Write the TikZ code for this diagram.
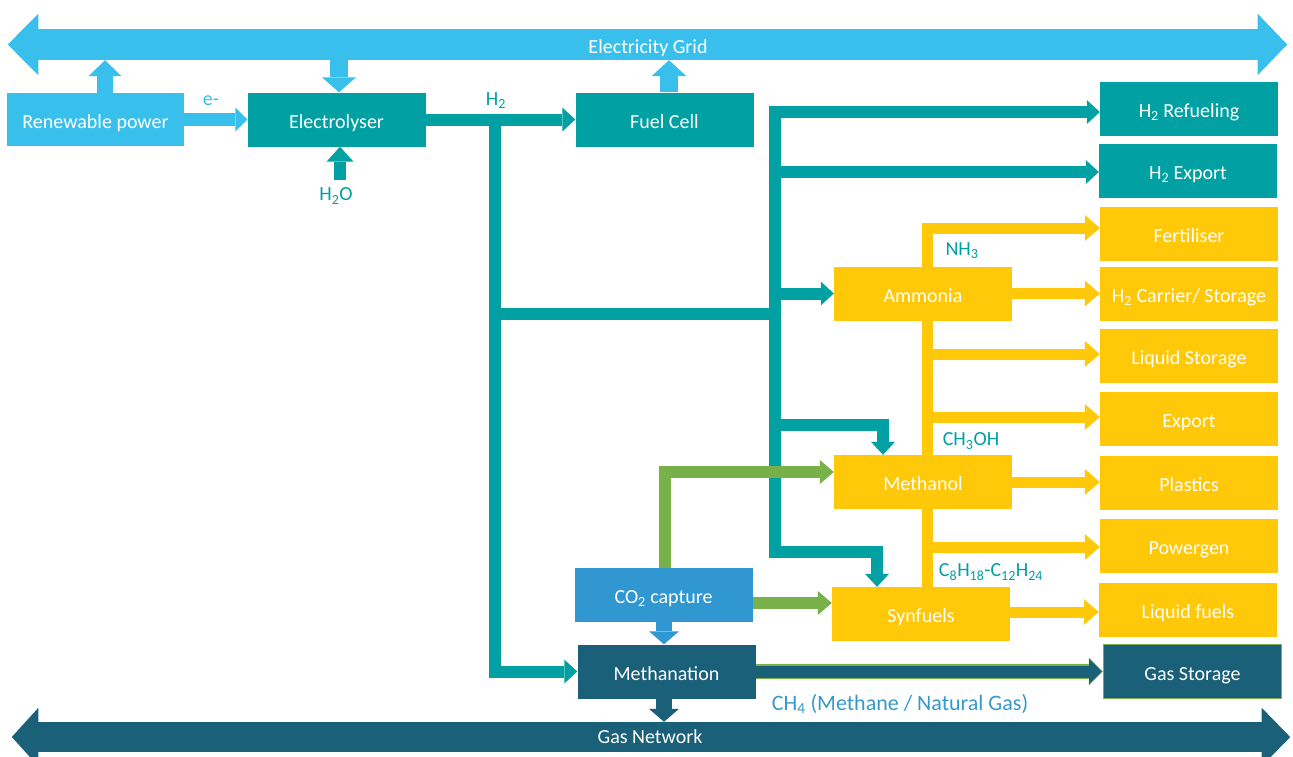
\documentclass[tikz,border=0pt]{standalone}
\usepackage{fontspec}
\setmainfont{Carlito}
\usetikzlibrary{arrows.meta,calc,backgrounds}
\definecolor{lblue}{HTML}{38BFEB}
\definecolor{tealc}{HTML}{00A0A3}
\definecolor{yel}{HTML}{FFC90A}
\definecolor{grn}{HTML}{78B14A}
\definecolor{cob}{HTML}{3097D1}
\definecolor{dteal}{HTML}{1A6079}
\definecolor{chlbl}{HTML}{3399CC}
\newcommand{\sbs}[1]{\textsubscript{#1}}
\begin{document}
\begin{tikzpicture}[x=1pt,y=-1pt,font=\fontsize{20}{24}\selectfont,
  box/.style={rectangle,inner sep=0pt,minimum width=178pt,minimum height=54pt,text=white,text height=17pt,text depth=0pt},
  lbbox/.style={box,fill=lblue}, tbox/.style={box,fill=tealc}, ybox/.style={box,fill=yel},
  cbox/.style={box,fill=cob}, dbox/.style={box,fill=dteal},
  tline/.style={draw=tealc,line width=12pt,line join=miter},
  tarr/.style={tline,-{Triangle[width=24pt,length=13pt,line width=0pt]}},
  tboth/.style={tline,{Triangle[width=24pt,length=13pt,line width=0pt]}-{Triangle[width=24pt,length=13pt,line width=0pt]}},
  yarr/.style={draw=yel,line width=11pt,line join=miter,-{Triangle[width=26pt,length=15pt,line width=0pt]}},
  garr/.style={draw=grn,line width=12pt,line join=miter,-{Triangle[width=24pt,length=14pt,line width=0pt]}},
  fat/.style n args={4}{draw=#1,line width=#2,-{Triangle[width=#3,length=#4,line width=0pt]}},
  lbl/.style={text=tealc,inner sep=0pt},
]
\useasboundingbox (0,0) rectangle (1293,756);

% bars
\node[fill=lblue,inner sep=0pt,minimum width=1220pt,minimum height=31pt,text=white,text height=17pt,text depth=0pt] (grid) at (648,44.5) {Electricity Grid};
\fill[lblue] ([xshift=-0.5pt,yshift=15pt]grid.north east) -- ([xshift=29pt]grid.east) -- ([xshift=-0.5pt,yshift=-15pt]grid.south east) -- cycle;
\fill[lblue] ([xshift=0.5pt,yshift=15pt]grid.north west) -- ([xshift=-30pt]grid.west) -- ([xshift=0.5pt,yshift=-15pt]grid.south west) -- cycle;
\node[fill=dteal,inner sep=0pt,minimum width=1224pt,minimum height=30pt,text=white,text height=13pt,text depth=0pt] (gnet) at (650,737) {Gas Network};
\fill[dteal] ([xshift=-0.5pt,yshift=14pt]gnet.north east) -- ([xshift=28pt]gnet.east) -- ([xshift=-0.5pt,yshift=-14pt]gnet.south east) -- cycle;
\fill[dteal] ([xshift=0.5pt,yshift=14pt]gnet.north west) -- ([xshift=-26pt]gnet.west) -- ([xshift=0.5pt,yshift=-14pt]gnet.south west) -- cycle;

% boxes
\node[lbbox,minimum width=177pt,minimum height=53pt] (ren) at (95.5,119.5) {Renewable power};
\node[tbox] (elec) at (336.5,119.5) {Electrolyser};
\node[tbox] (fc) at (664.5,119.5) {Fuel Cell};
\node[tbox] (ref) at (1189,108.5) {H\sbs{2} Refueling};
\node[tbox] (hexp) at (1188,170.5) {H\sbs{2} Export};
\node[ybox] (fert) at (1189,233.5) {Fertiliser};
\node[ybox] (carr) at (1189,294) {H\sbs{2} Carrier/ Storage};
\node[ybox] (liqs) at (1189,356) {Liquid Storage};
\node[ybox] (expo) at (1189,419) {Export};
\node[ybox] (plas) at (1189,482.5) {Plastics};
\node[ybox] (powg) at (1189,545.5) {Powergen};
\node[ybox] (liqf) at (1188,610) {Liquid fuels};
\node[dbox,draw=grn,line width=1.2pt] (gass) at (1192.5,671.5) {Gas Storage};
\node[ybox] (amm) at (923,293.5) {Ammonia};
\node[ybox] (mol) at (923,482) {Methanol};
\node[ybox] (syn) at (921,614) {Synfuels};
\node[cbox] (co2) at (663.5,595) {CO\sbs{2} capture};
\node[dbox] (mtn) at (666.5,671.5) {Methanation};

% labels
\node[lbl,text=lblue] (le) at (211,101) {e-};
\node[lbl] (lh2) at (496,101) {H\sbs{2}};
\node[lbl] (lh2o) at (336,196) {H\sbs{2}O};
\node[lbl] (lnh3) at (962,251) {NH\sbs{3}};
\node[lbl] (lch3oh) at (971,441) {CH\sbs{3}OH};
\node[lbl] (lc8) at (991,572) {C\sbs{8}H\sbs{18}-C\sbs{12}H\sbs{24}};
\node[lbl,text=chlbl,font=\fontsize{22}{26}\selectfont] (lch4) at (900,704) {CH\sbs{4} (Methane / Natural Gas)};

\begin{scope}[on background layer]
% grid links
\coordinate (rx) at (105,0);
\draw[fat={lblue}{16pt}{33pt}{16pt}] (ren.north -| rx) -- (grid.south -| rx);
\coordinate (ex) at (339,0);
\draw[fat={lblue}{18pt}{34pt}{15pt}] (grid.south -| ex) -- (elec.north -| ex);
\coordinate (fx) at (669,0);
\draw[fat={lblue}{18pt}{35pt}{16pt}] (fc.north -| fx) -- (grid.south -| fx);
\draw[fat={lblue}{13pt}{24pt}{12pt}] (ren.east) -- (elec.west);
\coordinate (wx) at (340,180);
\draw[fat={tealc}{12pt}{27pt}{15pt}] (wx) -- (wx |- elec.south);
% hydrogen
\draw[tarr] (elec.east) -- (fc.west);
\coordinate (j1) at (495,119.5);
\coordinate (j2) at (495,314);
\draw[tarr] (j1) -- (j1 |- mtn.west) -- (mtn.west);
\coordinate (bt) at (775,112);
\coordinate (bb) at (775,552);
\coordinate (sx) at (877,552);
\draw[tboth] (bt -| ref.west) -- (bt) -- (bb) -- (sx) -- (sx |- syn.north);
\coordinate (be) at (775,172);
\draw[tarr] (be) -- (be -| hexp.west);
\draw[tline] (j2) -- (j2 -| bt);
\coordinate (ba) at (775,293.5);
\draw[tarr] (ba) -- (amm.west);
\coordinate (bm) at (775,425);
\coordinate (mx) at (883,425);
\draw[tarr] (bm) -- (mx) -- (mx |- mol.north);
% yellow
\coordinate (yt) at (927,228);
\draw[yarr] (yt |- syn.north) -- (yt) -- (yt -| fert.west);
\coordinate (y1) at (927,354);
\draw[yarr] (y1) -- (y1 -| liqs.west);
\coordinate (y2) at (927,417);
\draw[yarr] (y2) -- (y2 -| expo.west);
\coordinate (y3) at (927,547);
\draw[yarr] (y3) -- (y3 -| powg.west);
\draw[yarr] (amm.east) -- (amm.east -| carr.west);
\draw[yarr] (mol.east) -- (mol.east -| plas.west);
\coordinate (y4) at (0,612);
\draw[yarr] (syn.east |- y4) -- (liqf.west |- y4);
% green
\coordinate (g1) at (665,472);
\draw[garr] (co2.north -| g1) -- (g1) -- (g1 -| mol.west);
\coordinate (g2) at (0,603);
\draw[garr] (co2.east |- g2) -- (syn.west |- g2);
% methane
\coordinate (dx) at (664,0);
\draw[fat={cob}{16pt}{30pt}{13pt}] (co2.south -| dx) -- (mtn.north -| dx);
\draw[fat={dteal}{16pt}{30pt}{13pt}] (mtn.south -| dx) -- (gnet.north -| dx);
\draw[fat={grn}{14.5pt}{28pt}{14pt}] (mtn.east) -- (gass.west);
\draw[fat={dteal}{12pt}{25pt}{12.5pt}] (mtn.east) -- ([xshift=-1.2pt]gass.west);
\end{scope}
\end{tikzpicture}
\end{document}
